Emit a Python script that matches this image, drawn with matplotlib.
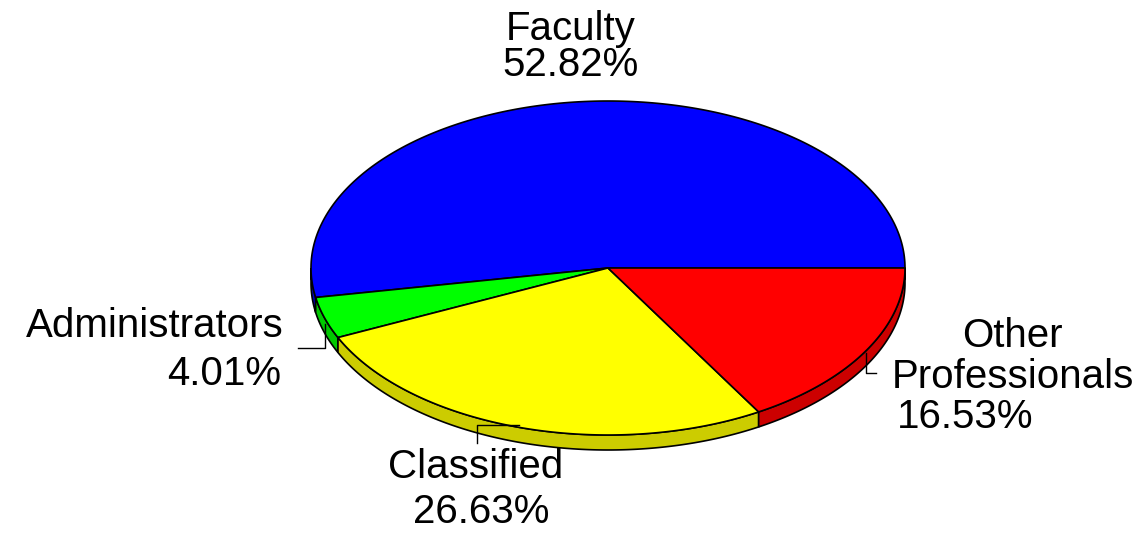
import numpy as np
import matplotlib
matplotlib.use("Agg")
import matplotlib.pyplot as plt
from matplotlib.patches import Polygon

# --- data ---
categories = ["Faculty", "Administrators", "Classified", "Other\nProfessionals"]
shares = [52.82, 4.01, 26.63, 16.53]
top_colors = ["#0000FF", "#00FF00", "#FFFF00", "#FF0000"]
side_colors = ["#0000C8", "#00C800", "#CCCC00", "#CC0000"]

# geometry of the tilted pie (pixels)
CX, CY = 608, 268
RX, RY = 297, 167
DEPTH = 15

plt.rcParams['font.family'] = ['Liberation Sans', 'DejaVu Sans']

fig = plt.figure(figsize=(11.48, 5.34), dpi=100)
ax = fig.add_axes([0, 0, 1, 1])
ax.set_xlim(0, 1148)
ax.set_ylim(534, 0)
ax.axis('off')


def rim(t0, t1, n=200):
    t = np.radians(np.linspace(t0, t1, n))
    return CX + RX * np.cos(t), CY - RY * np.sin(t)


# slice angles, counterclockwise from 3 o'clock
angles = np.concatenate([[0], np.cumsum(shares) / sum(shares) * 360])

# front sides (only the lower half is visible)
for i in range(len(shares)):
    a0, a1 = max(angles[i], 180), min(angles[i + 1], 360)
    if a1 <= a0:
        continue
    x, y = rim(a0, a1)
    xs = np.concatenate([x, x[::-1]])
    ys = np.concatenate([y, y[::-1] + DEPTH])
    ax.add_patch(Polygon(np.column_stack([xs, ys]), closed=True,
                         facecolor=side_colors[i], edgecolor='black', lw=1.2))

# top faces
for i in range(len(shares)):
    x, y = rim(angles[i], angles[i + 1])
    xs = np.concatenate([[CX], x])
    ys = np.concatenate([[CY], y])
    ax.add_patch(Polygon(np.column_stack([xs, ys]), closed=True,
                         facecolor=top_colors[i], edgecolor='black', lw=1.2))

# leader lines start at the side of each small slice
mids = (angles[:-1] + angles[1:]) / 2
leader_paths = {
    1: [(0, 6), (0, 30), (-27, 30)],
    2: [(0, -2), (-42, -2), (-42, 16)],
    3: [(0, 2), (0, 22), (10, 22)],
}
for i, path in leader_paths.items():
    m = np.radians(mids[i])
    sx, sy = CX + RX * np.cos(m), CY - RY * np.sin(m)
    px = [sx + dx for dx, dy in path]
    py = [sy + dy for dx, dy in path]
    ax.plot(px, py, color='black', lw=1.0)

fs = 29
pct = [f"{s:.2f}%" for s in shares]

# Faculty
ax.text(571, 40, categories[0], ha='center', va='baseline', fontsize=fs)
ax.text(571, 76, pct[0], ha='center', va='baseline', fontsize=fs)
# Administrators
ax.text(284, 337, categories[1], ha='right', va='baseline', fontsize=fs)
ax.text(281, 385, pct[1], ha='right', va='baseline', fontsize=fs)
# Classified
ax.text(476, 478, categories[2], ha='center', va='baseline', fontsize=fs)
ax.text(481, 523, pct[2], ha='center', va='baseline', fontsize=fs)
# Other Professionals
other, prof = categories[3].split("\n")
ax.text(1012, 347, other, ha='center', va='baseline', fontsize=fs)
ax.text(1013, 388, prof, ha='center', va='baseline', fontsize=fs)
ax.text(897, 428, pct[3], ha='left', va='baseline', fontsize=fs)

fig.savefig("out.png", dpi=100)
